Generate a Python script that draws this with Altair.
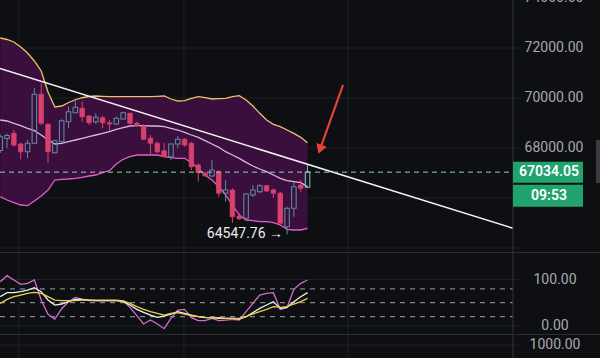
import math
import altair as alt
import pandas as pd

# ---------------- data ----------------
OPEN = [67900, 68380, 68590, 68160, 67850, 68190, 70150, 68950, 67810, 68250,
        69050, 69410, 69590, 69280, 69050, 69210, 69010, 68960, 69160, 69390,
        68990, 68880, 68390, 68190, 67890, 67650, 68160, 68350, 68190, 67320,
        66990, 66880, 67050, 66190, 66320, 65280, 65190, 66120, 66250, 66490,
        66320, 66190, 64850, 65590, 66520, 66430]
HIGH = [68550, 68580, 68720, 68210, 68320, 70390, 70590, 68990, 68330, 69150,
        69650, 69990, 69850, 69320, 69390, 69280, 69120, 69250, 69450, 69410,
        69050, 68960, 68520, 68250, 68210, 68190, 68480, 68390, 68250, 67390,
        67050, 67520, 67120, 66720, 66390, 65390, 66190, 66520, 66550, 66520,
        66390, 66250, 65650, 66650, 66720, 67320]
LOW = [67800, 68000, 68050, 67550, 67590, 68150, 68920, 67410, 67780, 68200,
       68790, 69390, 69050, 68920, 68960, 68790, 68690, 68920, 69120, 68880,
       68850, 68320, 67720, 67790, 67630, 67520, 67990, 68050, 67120, 66650,
       66850, 66850, 66050, 65850, 65000, 65120, 65120, 66050, 66190, 66250,
       65990, 64920, 64547.76, 65250, 66250, 66390]
CLOSE = [68450, 68500, 68120, 67850, 68190, 70150, 68990, 67850, 68290, 69090,
         69450, 69630, 69250, 69010, 69230, 69010, 68960, 69190, 69410, 68990,
         68890, 68350, 68190, 67850, 67650, 68160, 68350, 68120, 67250, 67010,
         66890, 67120, 66190, 66320, 65250, 65170, 66160, 66320, 66490, 66280,
         66190, 64990, 65590, 66450, 66390, 67034.05]

BB_UPPER = [72400, 72340, 72240, 72040, 71800, 71480, 71080, 70240, 69640, 69680,
            69820, 69930, 70010, 70060, 70080, 70067, 70053, 70053, 70053, 70053,
            70053, 70053, 70053, 70067, 70080, 69960, 69880, 69893, 69987, 70053,
            70013, 69960, 69973, 69987, 70053, 70093, 69920, 69680, 69387, 69120,
            68947, 68853, 68720, 68587, 68427, 68213]
BB_MID = [69120, 69080, 68987, 68893, 68787, 68693, 68520, 68320, 68160, 68187,
          68253, 68320, 68387, 68453, 68520, 68587, 68653, 68747, 68813, 68880,
          68893, 68893, 68880, 68880, 68853, 68787, 68720, 68627, 68520, 68427,
          68293, 68160, 68027, 67853, 67720, 67587, 67427, 67280, 67160, 67053,
          66920, 66787, 66693, 66653, 66613, 66453]
BB_LOWER = [66053, 65920, 65813, 65720, 65693, 65880, 66080, 66320, 66720, 66747,
            66760, 66787, 66827, 66880, 66920, 67013, 67093, 67360, 67547, 67653,
            67720, 67720, 67720, 67720, 67653, 67613, 67587, 67587, 67413, 67187,
            66920, 66720, 66453, 66120, 65720, 65320, 65120, 65093, 65053, 65053,
            65013, 64920, 64747, 64720, 64720, 64787]

STOCH_FAST = [95.3, 108.3, 98.9, 89.6, 91.7, 98.9, 55.7, 24.8, 14.7, 37.0,
              52.1, 61.5, 57.2, 54.3, 54.3, 54.3, 54.3, 54.3, 54.3, 39.9,
              21.9, 3.9, 12.5, 3.9, -6.2, 16.1, 34.1, 35.6, 17.6, 11.1,
              11.1, 16.1, 11.1, 12.5, 13.9, 12.5, 30.5, 48.5, 66.5, 70.1,
              71.6, 35.6, 39.9, 78.8, 91.7, 98.9]
STOCH_K = [62.9, 71.6, 71.6, 73.7, 77.3, 82.4, 73.7, 55.7, 44.9, 47.1,
           52.1, 57.2, 57.2, 55.7, 54.3, 54.3, 54.3, 54.3, 52.1, 44.9,
           35.6, 29.1, 23.3, 18.3, 21.2, 25.5, 30.5, 26.9, 23.3, 19.7,
           17.6, 17.6, 16.1, 16.1, 16.1, 14.7, 19.7, 28.4, 37.7, 44.9,
           52.1, 37.7, 39.9, 52.1, 62.9, 71.6]
STOCH_D = [48.5, 57.2, 62.9, 66.5, 70.1, 72.3, 70.1, 62.9, 55.7, 54.3,
           54.3, 54.3, 55.7, 55.7, 55.7, 55.7, 55.7, 55.7, 53.6, 48.5,
           41.3, 35.6, 30.5, 26.9, 23.3, 26.9, 28.4, 25.5, 21.9, 19.7,
           18.3, 17.6, 17.6, 16.1, 16.1, 16.1, 19.7, 25.5, 30.5, 35.6,
           41.3, 39.9, 41.3, 47.1, 52.1, 59.3]

PRICE_TICKS = [74000, 72000, 70000, 68000]
PRICE_GRID = [74000, 72000, 70000, 68000, 66000, 64000]
RSI_TICKS = [100, 0]
RSI_LEVELS = [80, 50, 20]
TIME_GRID = [2.75, 26.9, 50.92, 75.08]
TREND_X = [-0.03, 75.08]
TREND_Y = [71180, 64790]
ARROW_X = [50.19, 46.53]
ARROW_Y = [70520, 67720]
LOW_INDEX = 42
LOW_VALUE = 64547.76
TIMER = "09:53"
VOLUME_TICK = "1000.00"

# ---------------- layout / style ----------------
W, H = 513, 358
X_DOM = [-0.03, 75.08]
P_DOM = [59600, 73920]
R_DOM = [-69.5, 703.7]
PX_X = W / (X_DOM[1] - X_DOM[0])
PX_P = H / (P_DOM[1] - P_DOM[0])

BG = "#0e0f12"
GRID = "#1d2025"
SEP = "#2a2d33"
LABEL = "#a6a9b0"
UP = "#5b8ba2"
DOWN = "#d8416c"
LAST = "#72c4a4"
BAND = "#3a0e3d"
GREEN = "#21a36d"
FONT = "Roboto"


def xq(field):
    return alt.X(field, type="quantitative",
                 scale=alt.Scale(domain=X_DOM, nice=False, zero=False), axis=None)


def yp(field):
    return alt.Y(field, type="quantitative",
                 scale=alt.Scale(domain=P_DOM, nice=False, zero=False), axis=None)


def yr(field):
    return alt.Y(field, type="quantitative",
                 scale=alt.Scale(domain=R_DOM, nice=False, zero=False), axis=None)


n = len(CLOSE)
idx = list(range(n))
kind = []
for i in idx:
    if i == n - 1:
        kind.append("last")
    elif CLOSE[i] >= OPEN[i]:
        kind.append("up")
    else:
        kind.append("down")

candles = pd.DataFrame({
    "i": idx, "o": OPEN, "h": HIGH, "l": LOW, "c": CLOSE, "kind": kind,
})
candles["top"] = candles[["o", "c"]].max(axis=1)
candles["bot"] = candles[["o", "c"]].min(axis=1)
candles["x0"] = candles["i"] - 0.33
candles["x1"] = candles["i"] + 0.33

color_scale = alt.Scale(domain=["up", "down", "last"], range=[UP, DOWN, LAST])

bands = pd.DataFrame({"i": idx, "up": BB_UPPER, "mid": BB_MID, "lo": BB_LOWER})
stoch = pd.DataFrame({"i": idx, "fast": STOCH_FAST, "k": STOCH_K, "d": STOCH_D})

layers = []

# vertical time grid (full height)
layers.append(alt.Chart(pd.DataFrame({"x": TIME_GRID})).mark_rule(color=GRID, strokeWidth=1).encode(
    x=xq("x"), y=alt.value(0), y2=alt.value(H)))

# horizontal price grid with short tick into the axis area
layers.append(alt.Chart(pd.DataFrame({"p": PRICE_GRID})).mark_rule(color=GRID, strokeWidth=1).encode(
    y=yp("p"), x=alt.value(0), x2=alt.value(W + 8)))

# pane separators
seps = pd.DataFrame({"y": [252.5, 334.5]})
for yy in [252.5, 334.5]:
    layers.append(alt.Chart(pd.DataFrame({"a": [0]})).mark_rule(color=SEP, strokeWidth=1.2).encode(
        y=alt.value(yy), x=alt.value(0), x2=alt.value(600)))

# RSI solid grid & volume grid
layers.append(alt.Chart(pd.DataFrame({"v": RSI_TICKS})).mark_rule(color=GRID, strokeWidth=1).encode(
    y=yr("v"), x=alt.value(0), x2=alt.value(W + 8)))
layers.append(alt.Chart(pd.DataFrame({"a": [0]})).mark_rule(color=GRID, strokeWidth=1).encode(
    y=alt.value(345), x=alt.value(0), x2=alt.value(W + 8)))

# RSI dashed levels
layers.append(alt.Chart(pd.DataFrame({"v": RSI_LEVELS})).mark_rule(
    color="#80848b", strokeWidth=1.3, strokeDash=[5, 5]).encode(
    y=yr("v"), x=alt.value(0), x2=alt.value(W)))

# Bollinger fill & lines
layers.append(alt.Chart(bands).mark_area(color=BAND, opacity=1).encode(
    x=xq("i"), y=yp("up"), y2=alt.Y2("lo")))
layers.append(alt.Chart(bands).mark_line(color="#e9c468", strokeWidth=1.3).encode(x=xq("i"), y=yp("up")))
layers.append(alt.Chart(bands).mark_line(color="#d8b9dd", strokeWidth=1.3).encode(x=xq("i"), y=yp("mid")))
layers.append(alt.Chart(bands).mark_line(color="#e05fc9", strokeWidth=1.3).encode(x=xq("i"), y=yp("lo")))

# wicks (upper and lower parts, so hollow bodies stay hollow)
layers.append(alt.Chart(candles).mark_rule(strokeWidth=1).encode(
    x=xq("i"), y=yp("h"), y2=alt.Y2("top"),
    color=alt.Color("kind:N", scale=color_scale, legend=None)))
layers.append(alt.Chart(candles).mark_rule(strokeWidth=1).encode(
    x=xq("i"), y=yp("bot"), y2=alt.Y2("l"),
    color=alt.Color("kind:N", scale=color_scale, legend=None)))

# bodies: down = filled, up = hollow
layers.append(alt.Chart(candles[candles["kind"] == "down"]).mark_rect(strokeWidth=0.8).encode(
    x=xq("x0"), x2=alt.X2("x1"), y=yp("top"), y2=alt.Y2("bot"),
    color=alt.Color("kind:N", scale=color_scale, legend=None),
    stroke=alt.Stroke("kind:N", scale=color_scale, legend=None)))
layers.append(alt.Chart(candles[candles["kind"] != "down"]).mark_rect(fillOpacity=0, strokeWidth=1.1).encode(
    x=xq("x0"), x2=alt.X2("x1"), y=yp("top"), y2=alt.Y2("bot"),
    stroke=alt.Stroke("kind:N", scale=color_scale, legend=None)))

# trend line
layers.append(alt.Chart(pd.DataFrame({"x": TREND_X, "y": TREND_Y})).mark_line(
    color="#f2f2f2", strokeWidth=1.5).encode(x=xq("x"), y=yp("y")))

# current price dashed line
last_close = CLOSE[-1]
layers.append(alt.Chart(pd.DataFrame({"p": [last_close]})).mark_rule(
    color="#8fd3bd", strokeWidth=1, strokeDash=[5, 4]).encode(
    y=yp("p"), x=alt.value(0), x2=alt.value(W)))

# red arrow
dxp = (ARROW_X[1] - ARROW_X[0]) * PX_X
dyp = -(ARROW_Y[1] - ARROW_Y[0]) * PX_P
ln = math.hypot(dxp, dyp)
ux, uy = dxp / ln, dyp / ln
head_back = 6.0
line_back = 8.0
head_x = ARROW_X[1] - ux * head_back / PX_X
head_y = ARROW_Y[1] + uy * head_back / PX_P
end_x = ARROW_X[1] - ux * line_back / PX_X
end_y = ARROW_Y[1] + uy * line_back / PX_P
angle = math.degrees(math.atan2(-dxp, dyp)) % 360
layers.append(alt.Chart(pd.DataFrame({"x": [ARROW_X[0], end_x], "y": [ARROW_Y[0], end_y]})).mark_line(
    color="#e8413a", strokeWidth=2.2).encode(x=xq("x"), y=yp("y")))
layers.append(alt.Chart(pd.DataFrame({"x": [head_x], "y": [head_y]})).mark_point(
    shape="triangle-down", filled=True, color="#e8413a", opacity=1, size=120, angle=angle).encode(
    x=xq("x"), y=yp("y")))

# low label
layers.append(alt.Chart(pd.DataFrame({"x": [LOW_INDEX], "y": [LOW_VALUE],
                                      "t": [f"{LOW_VALUE:.2f} \u2192"]})).mark_text(
    align="right", baseline="middle", dx=-4, dy=0, font=FONT, fontSize=14, color="#ececec").encode(
    x=xq("x"), y=yp("y"), text="t:N"))

# stochastic RSI lines
layers.append(alt.Chart(stoch).mark_line(color="#d66bd2", strokeWidth=1.3).encode(x=xq("i"), y=yr("fast")))
layers.append(alt.Chart(stoch).mark_line(color="#f0f0f0", strokeWidth=1.3).encode(x=xq("i"), y=yr("k")))
layers.append(alt.Chart(stoch).mark_line(color="#e6d24c", strokeWidth=1.3).encode(x=xq("i"), y=yr("d")))

# right axis: price labels
layers.append(alt.Chart(pd.DataFrame({"p": PRICE_TICKS, "t": [f"{v:.2f}" for v in PRICE_TICKS]})).mark_text(
    align="center", baseline="middle", font=FONT, fontSize=14, color=LABEL).encode(
    y=yp("p"), x=alt.value(554), text="t:N"))

# axis border
layers.append(alt.Chart(pd.DataFrame({"a": [0]})).mark_rule(color=SEP, strokeWidth=1).encode(
    x=alt.value(W), y=alt.value(0), y2=alt.value(H)))

# RSI labels
layers.append(alt.Chart(pd.DataFrame({"v": RSI_TICKS, "t": [f"{v:.2f}" for v in RSI_TICKS]})).mark_text(
    align="center", baseline="middle", font=FONT, fontSize=14, color=LABEL).encode(
    y=yr("v"), x=alt.value(555), text="t:N"))
layers.append(alt.Chart(pd.DataFrame({"t": [VOLUME_TICK]})).mark_text(
    align="center", baseline="middle", font=FONT, fontSize=14, color=LABEL).encode(
    y=alt.value(345), x=alt.value(555), text="t:N"))

# price boxes
box_half = 10.5 / PX_P
gap = 2.0 / PX_P
box2_h = 22.0 / PX_P
boxes = pd.DataFrame({
    "top": [last_close + box_half, last_close - box_half - gap],
    "bot": [last_close - box_half, last_close - box_half - gap - box2_h],
    "t": [f"{last_close:.2f}", TIMER],
    "w": [600, 500],
})
boxes["mid"] = (boxes["top"] + boxes["bot"]) / 2
layers.append(alt.Chart(boxes).mark_rect(color=GREEN).encode(
    x=alt.value(W), x2=alt.value(583), y=yp("top"), y2=alt.Y2("bot")))
layers.append(alt.Chart(boxes).mark_text(
    align="center", baseline="middle", font=FONT, fontSize=14, fontWeight=600, color="#ffffff").encode(
    x=alt.value(549), y=yp("mid"), text="t:N"))

# small UI tab at right edge
layers.append(alt.Chart(pd.DataFrame({"a": [0]})).mark_rect(color="#3a3c42").encode(
    x=alt.value(596), x2=alt.value(602), y=alt.value(140), y2=alt.value(183)))

chart = alt.layer(*layers).resolve_scale(y="independent").properties(
    width=W, height=H, background=BG,
    padding={"left": 0, "right": 87, "top": 0, "bottom": 0},
    autosize=alt.AutoSizeParams(type="none"),
).configure_view(stroke=None)

chart.save("out.html", embed_options={"renderer": "svg", "actions": False})
